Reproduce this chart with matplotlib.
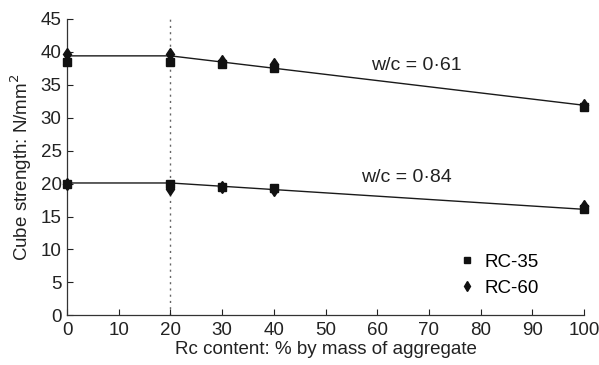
import matplotlib
matplotlib.use("Agg")
import matplotlib.pyplot as plt

plt.rcParams['font.family'] = ['Liberation Sans', 'DejaVu Sans']

# Rc content (% by mass of aggregate)
rc = [0, 20, 30, 40, 100]

# cube strength, N/mm^2
rc35_061 = [38.5, 38.5, 38.2, 37.6, 31.6]
rc60_061 = [39.7, 39.7, 38.6, 38.1, 32.0]
rc35_084 = [20.0, 20.0, 19.5, 19.4, 16.1]
rc60_084 = [20.0, 19.2, 19.5, 19.0, 16.6]

# trend lines: flat up to 20 %, then linear to 100 %
trend_x = [0, 20, 100]
trend_061 = [39.4, 39.4, 31.9]
trend_084 = [20.1, 20.1, 16.1]

fig = plt.figure(figsize=(5.99, 3.65), dpi=100)
ax = fig.add_axes([0.112, 0.136, 0.863, 0.812])

ax.axvline(20, color='#666666', lw=1.0, ls=(0, (1.5, 3)), zorder=1)

ax.plot(trend_x, trend_061, color='#1a1a1a', lw=1.0, zorder=2)
ax.plot(trend_x, trend_084, color='#1a1a1a', lw=1.0, zorder=2)

ax.plot(rc, rc35_061, ls='none', marker='s', ms=5.5, color='#111111',
        clip_on=False, zorder=3, label='RC-35')
ax.plot(rc, rc35_084, ls='none', marker='s', ms=5.5, color='#111111',
        clip_on=False, zorder=3)
ax.plot(rc, rc60_061, ls='none', marker='d', ms=6.5, color='#111111',
        clip_on=False, zorder=3, label='RC-60')
ax.plot(rc, rc60_084, ls='none', marker='d', ms=6.5, color='#111111',
        clip_on=False, zorder=3)

ax.text(67.6, 38.0, 'w/c = 0·61', ha='center', va='center', fontsize=14,
        color='#222222')
ax.text(65.6, 21.0, 'w/c = 0·84', ha='center', va='center', fontsize=14,
        color='#222222')

ax.set_xlim(0, 100)
ax.set_ylim(0, 45)
ax.set_xticks(range(0, 101, 10))
ax.set_yticks(range(0, 46, 5))
ax.tick_params(direction='in', length=4, width=0.8, labelsize=13.5,
               colors='#222222', pad=3)
ax.tick_params(axis='x', pad=5)
ax.tick_params(axis='y', pad=4)
for side in ['top', 'right']:
    ax.spines[side].set_visible(False)
for side in ['left', 'bottom']:
    ax.spines[side].set_color('#333333')
    ax.spines[side].set_linewidth(0.9)

ax.set_xlabel('Rc content: % by mass of aggregate', fontsize=13.5,
              color='#222222', labelpad=1)
ax.set_ylabel('Cube strength: N/mm$^2$', fontsize=13.5, color='#222222',
              labelpad=5)

ax.legend(loc='lower right', bbox_to_anchor=(0.945, 0.005), frameon=False,
          fontsize=13.5, handlelength=0.8, handletextpad=0.5,
          labelspacing=0.5, markerscale=0.8)

fig.savefig('out.png', dpi=100)
